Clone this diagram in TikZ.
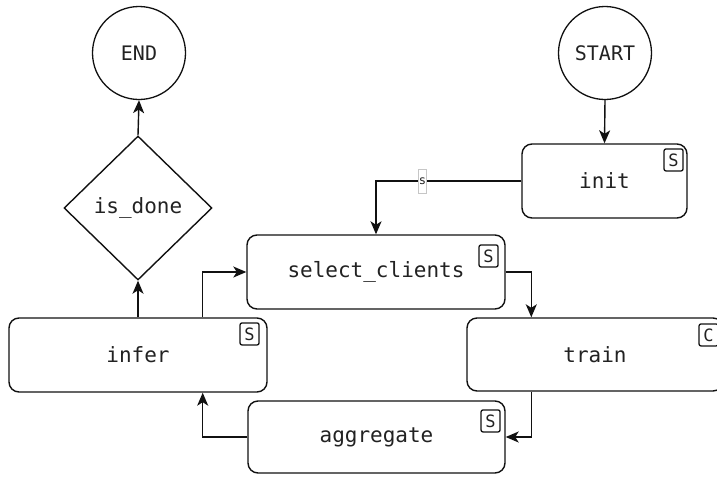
\documentclass[tikz,border=0pt]{standalone}
\usepackage{fontspec}
\setmonofont{DejaVu Sans Mono}
\usetikzlibrary{shapes.geometric,arrows.meta}
\definecolor{ink}{HTML}{111111}
\definecolor{txt}{HTML}{222222}
\tikzset{
  stepbox/.style={draw=ink, line width=1.4pt, rounded corners=10pt, fill=white,
    font=\ttfamily\fontsize{21}{24}\selectfont, text=txt, inner sep=0pt},
  endpt/.style={draw=ink, line width=1.3pt, circle, minimum size=93pt, inner sep=0pt,
    font=\ttfamily\fontsize{20}{24}\selectfont, text=txt},
  decision/.style={draw=ink, line width=1.4pt, diamond, aspect=1.03, minimum width=148pt,
    minimum height=144pt, inner sep=0pt, font=\ttfamily\fontsize{21}{24}\selectfont, text=txt},
  badge/.style={draw=ink, line width=1.3pt, rounded corners=2pt, minimum width=19pt,
    minimum height=22pt, inner sep=0pt, anchor=north east,
    font=\ttfamily\fontsize{17}{20}\selectfont, text=txt},
  arr/.style={draw=ink, line width=1.4pt, -{Stealth[length=13pt,width=11pt,inset=3.5pt]}},
  slabel/.style={draw=gray!45, line width=0.5pt, fill=white, inner xsep=0.5pt, inner ysep=0pt,
    minimum height=24pt, minimum width=8pt, font=\ttfamily\fontsize{12}{14}\selectfont, text=txt}
}
\begin{document}
\begin{tikzpicture}[x=1pt,y=-1pt]
\useasboundingbox (0,0) rectangle (717,477);
\clip (0,0) rectangle (717,477);
\node[endpt] (endn) at (139,53) {END};
\node[endpt] (start) at (605,53) {START};
\node[stepbox, minimum width=165pt, minimum height=74pt] (init) at (604.5,181) {init};
\node[stepbox, minimum width=258pt, minimum height=74pt] (select) at (376,272) {select\_clients};
\node[stepbox, minimum width=256pt, minimum height=73pt] (train) at (595,354.5) {train};
\node[stepbox, minimum width=257pt, minimum height=72pt] (aggr) at (376.5,437) {aggregate};
\node[stepbox, minimum width=258pt, minimum height=74pt] (infer) at (138,355) {infer};
\node[decision] (done) at (138,208) {is\_done};
\node[badge] (binit) at ([xshift=-4pt,yshift=-5pt]init.north east) {S};
\node[badge] (bsel) at ([xshift=-7pt,yshift=-10pt]select.north east) {S};
\node[badge] (btrain) at ([xshift=-5pt,yshift=-6pt]train.north east) {C};
\node[badge] (baggr) at ([xshift=-5pt,yshift=-9pt]aggr.north east) {S};
\node[badge] (binfer) at ([xshift=-8pt,yshift=-5pt]infer.north east) {S};
\draw[arr] (start.south) -- (init.north);
\draw[arr] (init.west) -| node[slabel, pos=0.34] (sl) {s} (select.north);
\draw[arr] (select.east) -| ([xshift=65pt]train.north west);
\draw[arr] ([xshift=65pt]train.south west) |- (aggr.east);
\draw[arr] (aggr.west) -| ([xshift=-65pt]infer.south east);
\draw[arr] ([xshift=-65pt]infer.north east) |- (select.west);
\draw[arr] (infer.north) -- (done.south);
\draw[arr] (done.north) -- (endn.south);
\end{tikzpicture}
\end{document}
